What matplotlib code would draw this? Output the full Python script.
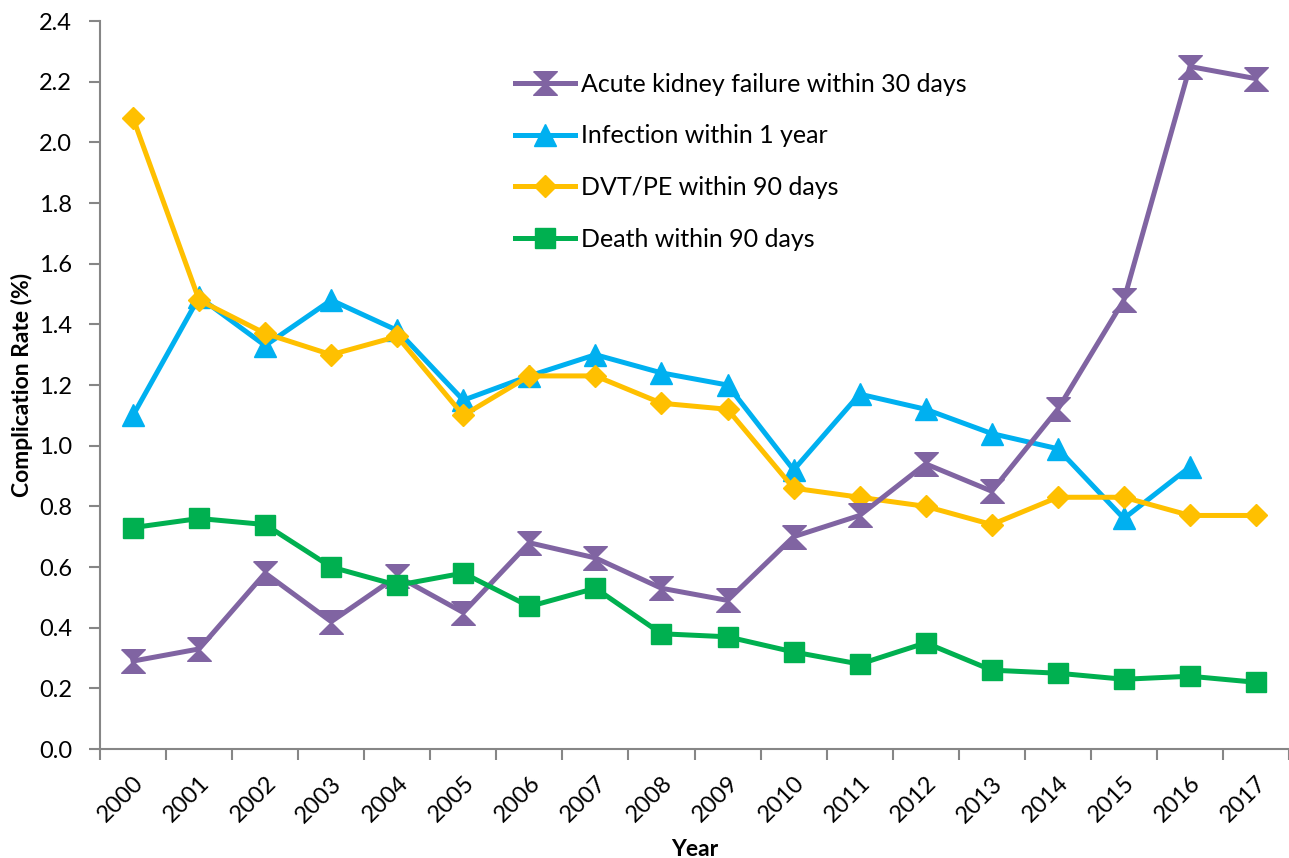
import numpy as np
import matplotlib
matplotlib.use("Agg")
import matplotlib.pyplot as plt

plt.rcParams['font.family'] = ['Lato', 'DejaVu Sans']

# данные
years = [str(y) for y in range(2000, 2018)]
kidney = [0.29, 0.33, 0.58, 0.42, 0.57, 0.45, 0.68, 0.63, 0.53, 0.49,
          0.70, 0.77, 0.94, 0.85, 1.12, 1.48, 2.25, 2.21]
infection = [1.10, 1.49, 1.33, 1.48, 1.38, 1.15, 1.23, 1.30, 1.24, 1.20,
             0.92, 1.17, 1.12, 1.04, 0.99, 0.76, 0.93]
dvt = [2.08, 1.48, 1.37, 1.30, 1.36, 1.10, 1.23, 1.23, 1.14, 1.12,
       0.86, 0.83, 0.80, 0.74, 0.83, 0.83, 0.77, 0.77]
death = [0.73, 0.76, 0.74, 0.60, 0.54, 0.58, 0.47, 0.53, 0.38, 0.37,
         0.32, 0.28, 0.35, 0.26, 0.25, 0.23, 0.24, 0.22]

# маркер "песочные часы"
hourglass = [(-1, 1), (1, 1), (0, 0), (1, -1), (-1, -1), (0, 0), (-1, 1)]

fig = plt.figure(figsize=(12.89, 8.58), dpi=100)
ax = fig.add_axes([0.0776, 0.127, 0.9224, 0.8485])

x = np.arange(len(years))
lw = 3.6

l_inf, = ax.plot(x[:len(infection)], infection, color='#00B0F0', lw=lw,
                 marker='^', ms=16, zorder=3, label='Infection within 1 year')
l_dvt, = ax.plot(x, dvt, color='#FFC000', lw=lw, marker='D', ms=11.5,
                 zorder=4, label='DVT/PE within 90 days')
l_kid, = ax.plot(x, kidney, color='#8064A2', lw=lw, marker=hourglass, ms=17,
                 zorder=5, label='Acute kidney failure within 30 days')
l_dth, = ax.plot(x, death, color='#00B050', lw=lw, marker='s', ms=14.5,
                 zorder=6, label='Death within 90 days')

ax.set_xlim(-0.5, len(years) - 0.5)
ax.set_ylim(0, 2.4)
ax.set_yticks(np.arange(0, 2.41, 0.2))
ax.set_yticklabels([f"{v:.1f}" for v in np.arange(0, 2.41, 0.2)], fontsize=17)

ax.set_xticks(x)
ax.set_xticklabels(years, rotation=45, ha='right', rotation_mode='anchor', fontsize=17)
ax.set_xticks(np.arange(-0.5, len(years)), minor=True)
ax.tick_params(axis='x', which='major', length=0, pad=17)
ax.tick_params(axis='x', which='minor', length=8, color='#868686', width=1.5)
ax.tick_params(axis='y', length=8, color='#868686', width=1.5, pad=12)

for s in ['top', 'right']:
    ax.spines[s].set_visible(False)
for s in ['left', 'bottom']:
    ax.spines[s].set_color('#868686')
    ax.spines[s].set_linewidth(1.5)

ax.set_ylabel("Complication Rate (%)", fontsize=16.5, fontweight='bold', labelpad=8)
ax.yaxis.set_label_coords(-0.056, 0.5)
ax.set_xlabel("Year", fontsize=16.5, fontweight='bold')
ax.xaxis.set_label_coords(0.5, -0.124)

ax.legend(handles=[l_kid, l_inf, l_dvt, l_dth], loc='upper left',
          bbox_to_anchor=(0.33, 0.96), frameon=False, fontsize=18,
          handlelength=2.4, labelspacing=1.15, handletextpad=0.25)

fig.savefig("out.png", dpi=100)
